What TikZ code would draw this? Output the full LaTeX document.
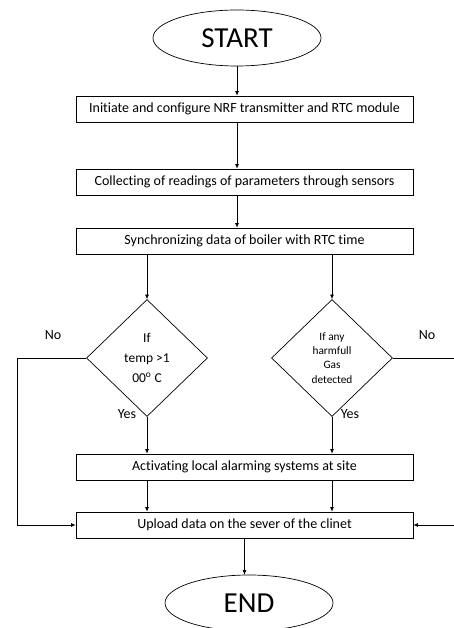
\documentclass[tikz,border=0pt]{standalone}
\usepackage{fontspec}
\setmainfont{Carlito}[Ligatures=NoCommon]
\usetikzlibrary{shapes.geometric,arrows.meta}

\begin{document}
\begin{tikzpicture}[x=1pt, y=-1pt, font=\fontsize{14}{16}\selectfont,
  line width=0.7pt, >={Latex[length=4.5pt,width=4pt]},
  stepbox/.style={draw, rectangle, minimum width=337pt, minimum height=26pt, inner sep=0pt},
  term/.style={draw, ellipse, minimum width=168pt, minimum height=56pt, inner sep=0pt, font=\fontsize{29}{31}\selectfont},
  test/.style={draw, diamond, minimum width=121pt, minimum height=117pt, inner sep=0pt, align=center}]
\useasboundingbox (0,0) rectangle (453,628);

% terminals and steps
\node[term] (start) at (237,38) {START};
\node[stepbox] (init) at (244.5,109) {Initiate and configure NRF transmitter and RTC module};
\node[stepbox] (read) at (244.5,182) {Collecting of readings of parameters through sensors};
\node[stepbox] (sync) at (244.5,241) {Synchronizing data of boiler with RTC time};
\node[test, font=\fontsize{13.5}{20}\selectfont] (tempchk) at (147,358) {If\\temp >1\\00\textsuperscript{o} C};
\node[test, font=\fontsize{11.3}{14.3}\selectfont] (gaschk) at (332,358) {If any\\harmfull\\Gas\\detected};
\node[stepbox] (alarm) at (244.5,467) {Activating local alarming systems at site};
\node[stepbox] (upload) at (244.5,525) {Upload data on the sever of the clinet};
\node[term] (stop) at (249,603) {END};

\coordinate (lft) at (17,0);
\coordinate (rgt) at (456,0);

% labels
\node (nol) at (53,335) {No};
\node (nor) at (427,335) {No};
\node (yesl) at (127,414) {Yes};
\node (yesr) at (350,414) {Yes};

% connectors
\draw[->] (start.south) -- (start.south |- init.north);
\draw[->] (init.south -| start.south) -- (read.north -| start.south);
\draw[->] (read.south -| start.south) -- (sync.north -| start.south);
\draw[->] (sync.south -| tempchk.north) -- (tempchk.north);
\draw[->] (sync.south -| gaschk.north) -- (gaschk.north);
\draw[->] (tempchk.south) -- (alarm.north -| tempchk.south);
\draw[->] (gaschk.south) -- (alarm.north -| gaschk.south);
\draw[->] (alarm.south -| tempchk.south) -- (upload.north -| tempchk.south);
\draw[->] (alarm.south -| gaschk.south) -- (upload.north -| gaschk.south);
\draw[->] (tempchk.west) -- (tempchk.west -| lft) |- (upload.west);
\draw[->] (gaschk.east) -- (gaschk.east -| rgt) |- (upload.east);
\draw[->] (upload.south) -- (upload.south |- stop.north);
\end{tikzpicture}
\end{document}
